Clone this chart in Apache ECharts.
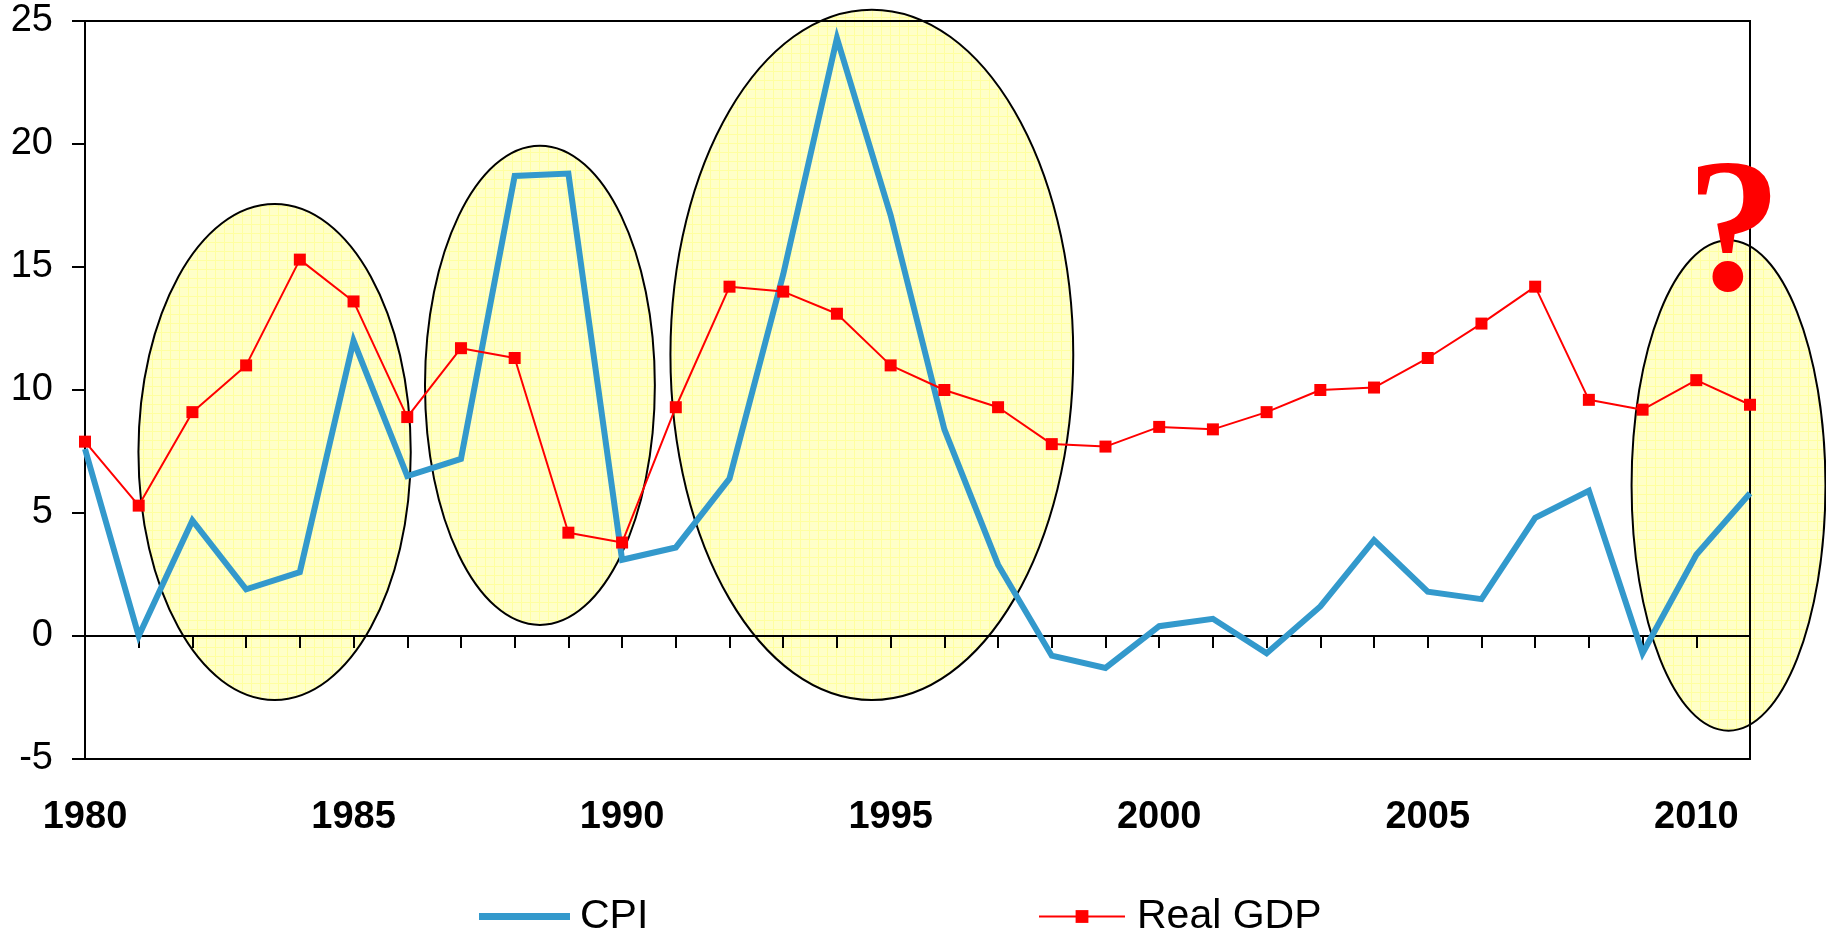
<!DOCTYPE html>
<html>
<head>
<meta charset="utf-8">
<script src="https://cdn.jsdelivr.net/npm/echarts@6/dist/echarts.min.js"></script>
<style>
html,body{margin:0;padding:0;background:#fff;}
#main{width:1826px;height:937px;}
</style>
</head>
<body>
<div id="main"></div>
<script>
// ---- data ----
var years = [1980,1981,1982,1983,1984,1985,1986,1987,1988,1989,1990,1991,1992,1993,1994,1995,
             1996,1997,1998,1999,2000,2001,2002,2003,2004,2005,2006,2007,2008,2009,2010,2011];
var cpi = [7.6,0.0,4.7,1.9,2.6,12.0,6.5,7.2,18.7,18.8,3.1,3.6,6.4,14.7,24.3,17.1,
           8.4,2.9,-0.8,-1.3,0.4,0.7,-0.7,1.2,3.9,1.8,1.5,4.8,5.9,-0.7,3.3,5.8];
var realGdp = [7.9,5.3,9.1,11.0,15.3,13.6,8.9,11.7,11.3,4.2,3.8,9.3,14.2,14.0,13.1,11.0,
               10.0,9.3,7.8,7.7,8.5,8.4,9.1,10.0,10.1,11.3,12.7,14.2,9.6,9.2,10.4,9.4];
var yTicks = [-5,0,5,10,15,20,25];
var xLabelYears = [1980,1985,1990,1995,2000,2005,2010];
// highlight ellipses: centre year, centre value, half-width (years), half-height (value)
var ellipseCenterYear = [1983.53, 1988.47, 1994.65, 2010.6];
var ellipseCenterValue = [7.48, 10.19, 11.43, 6.12];
var ellipseHalfYears = [2.535, 2.14, 3.75, 1.805];
var ellipseHalfValue = [10.08, 9.74, 14.03, 9.97];
var questionMark = ['?', 2010.7, 16.1];

function pairs(xs, ys){ return xs.map(function(x,i){ return [x, ys[i]]; }); }
var ellipseData = ellipseCenterYear.map(function(c,i){
  return [c, ellipseCenterValue[i], ellipseHalfYears[i], ellipseHalfValue[i]];
});

// light yellow grid pattern
var pc = document.createElement('canvas');
pc.width = 9; pc.height = 9;
var g = pc.getContext('2d');
g.fillStyle = '#FFFFC8'; g.fillRect(0,0,9,9);
g.fillStyle = '#FFFFA0'; g.fillRect(8,0,1,9); g.fillRect(0,8,9,1);
var pattern = {image: pc, repeat: 'repeat'};

var FONT = '"Liberation Sans", Arial, sans-serif';
var chart = echarts.init(document.getElementById('main'), null, {renderer:'canvas'});
chart.setOption({
  animation: false,
  backgroundColor: '#fff',
  grid: {left: 85, right: 76, top: 21, bottom: 178, show: true, borderColor: '#000', borderWidth: 2,
         backgroundColor: 'transparent', containLabel: false, outerBoundsMode: 'none'},
  legend: [
    {data: [{name:'CPI', icon:'rect'}], left: 474, top: 891, itemWidth: 91, itemHeight: 7,
     textStyle: {fontSize: 41, color: '#000', fontFamily: FONT, padding: [0,0,0,5]}},
    {data: ['Real GDP'], left: 1033, top: 891, itemWidth: 86, itemHeight: 16,
     textStyle: {fontSize: 41, color: '#000', fontFamily: FONT, padding: [0,0,0,7]}}
  ],
  xAxis: [
    {type: 'value', min: years[0], max: years[years.length-1], interval: 1, position: 'bottom',
     axisLine: {onZero: true, lineStyle: {color: '#000', width: 2}},
     axisTick: {show: true, inside: false, length: 12, lineStyle: {color: '#000', width: 2}},
     axisLabel: {show: false}, splitLine: {show: false}},
    {type: 'value', min: years[0], max: years[years.length-1], interval: 5, position: 'bottom',
     axisLine: {show: false, onZero: false}, axisTick: {show: false}, splitLine: {show: false},
     axisLabel: {show: true, margin: 40, color: '#000', fontSize: 38, fontWeight: 'bold', fontFamily: FONT,
       formatter: function(v){ return xLabelYears.indexOf(v) >= 0 ? String(v) : ''; }}}
  ],
  yAxis: {type: 'value', min: yTicks[0], max: yTicks[yTicks.length-1], interval: 5,
    axisLine: {show: true, onZero: false, lineStyle: {color: '#000', width: 2}},
    axisTick: {show: true, length: 13, lineStyle: {color: '#000', width: 2}},
    axisLabel: {margin: 32, color: '#000', fontSize: 38, fontFamily: FONT},
    splitLine: {show: false}},
  series: [
    {type: 'custom', name: 'highlight', z: -1, silent: true, clip: false,
     data: ellipseData, encode: {x: 0, y: 1},
     renderItem: function(params, api){
       var c = api.coord([api.value(0), api.value(1)]);
       var s = api.size([api.value(2), api.value(3)]);
       return {type: 'ellipse', shape: {cx: c[0], cy: c[1], rx: s[0], ry: s[1]},
               style: {fill: pattern, stroke: '#000', lineWidth: 2}};
     }},
    {type: 'line', name: 'CPI', data: pairs(years, cpi), symbol: 'none', z: 3,
     lineStyle: {color: '#3399CC', width: 6, join: 'miter'}, itemStyle: {color: '#3399CC'}},
    {type: 'line', name: 'Real GDP', data: pairs(years, realGdp), symbol: 'rect', symbolSize: 12, z: 4,
     lineStyle: {color: '#FF0000', width: 2}, itemStyle: {color: '#FF0000'}},
    {type: 'custom', name: 'mark', z: 5, silent: true, clip: false,
     data: [[questionMark[1], questionMark[2]]], encode: {x: 0, y: 1},
     renderItem: function(params, api){
       var c = api.coord([api.value(0), api.value(1)]);
       return {type: 'text', x: c[0], y: c[1],
               style: {text: questionMark[0], fill: '#FF0000', font: 'bold 190px "Liberation Serif", "Times New Roman", serif',
                       align: 'center', verticalAlign: 'middle'}};
     }}
  ]
});
</script>
</body>
</html>
